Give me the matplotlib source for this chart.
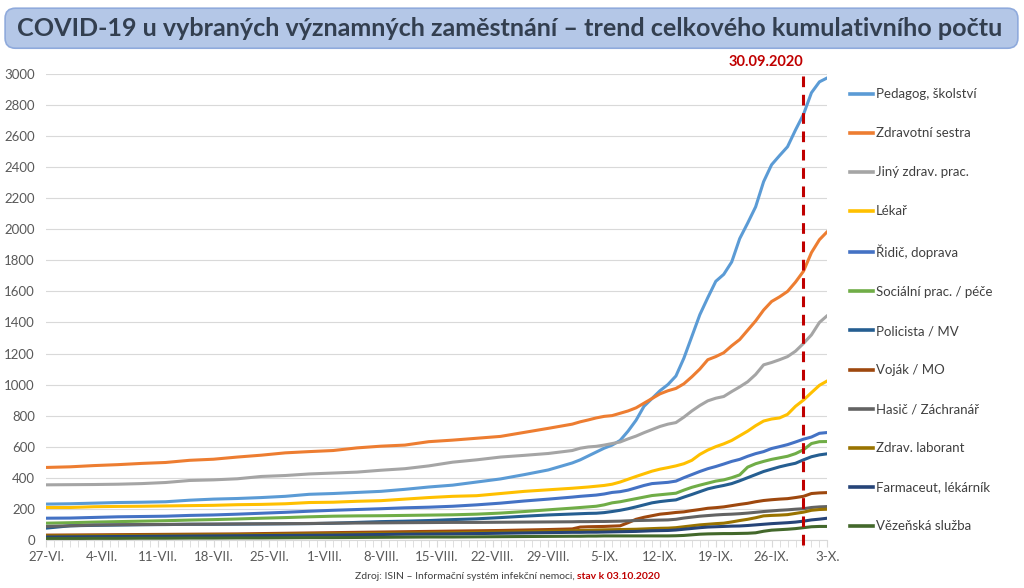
import matplotlib
matplotlib.use("Agg")
import matplotlib.pyplot as plt
import matplotlib.patches as patches
from matplotlib.lines import Line2D

plt.rcParams['font.family'] = ['Lato', 'DejaVu Sans']

# days since 27-VI (every 3rd day until 66, then daily)
days = [0, 3, 6, 9, 12, 15, 18, 21, 24, 27, 30, 33, 36, 39, 42, 45, 48, 51, 54, 57, 60, 63, 66,
        67, 68, 69, 70, 71, 72, 73, 74, 75, 76, 77, 78, 79, 80, 81, 82, 83, 84, 85, 86, 87, 88,
        89, 90, 91, 92, 93, 94, 95, 96, 97, 98]

tick_days = [0, 7, 14, 21, 28, 35, 42, 49, 56, 63, 70, 77, 84, 91, 98]
tick_labels = ['27-VI.', '4-VII.', '11-VII.', '18-VII.', '25-VII.', '1-VIII.', '8-VIII.',
               '15-VIII.', '22-VIII.', '29-VIII.', '5-IX.', '12-IX.', '19-IX.', '26-IX.', '3-X.']

pedagog = [230, 232, 236, 240, 242, 245, 255, 262, 266, 272, 280, 293, 298, 305, 312, 325, 340, 352, 372, 392, 420, 450, 495,
           515, 540, 565, 590, 610, 640, 700, 770, 860, 910, 960, 1000, 1055, 1170, 1310, 1450, 1560, 1665, 1710, 1790,
           1940, 2040, 2145, 2307, 2416, 2475, 2532, 2640, 2740, 2880, 2950, 2976]
sestra = [466, 470, 478, 484, 492, 498, 512, 519, 533, 545, 560, 568, 575, 592, 603, 610, 632, 642, 654, 666, 692, 718, 745,
          760, 772, 785, 795, 800, 815, 830, 850, 880, 910, 940, 960, 975, 1005, 1050, 1100, 1160, 1180, 1205, 1250,
          1290, 1350, 1410, 1480, 1535, 1565, 1600, 1660, 1730, 1850, 1933, 1986]
jiny = [354, 355, 356, 358, 362, 369, 382, 386, 393, 408, 414, 424, 430, 436, 448, 458, 476, 500, 515, 533, 544, 556, 575,
        590, 598, 602, 610, 620, 630, 650, 668, 690, 710, 730, 745, 755, 790, 830, 865, 895, 912, 923, 955,
        985, 1018, 1065, 1127, 1142, 1160, 1180, 1215, 1265, 1320, 1400, 1445]
lekar = [208, 208, 213, 215, 216, 218, 220, 222, 226, 228, 232, 240, 242, 248, 252, 262, 272, 280, 284, 298, 312, 322, 332,
         336, 340, 345, 350, 358, 372, 390, 408, 425, 442, 455, 465, 476, 490, 512, 550, 578, 600, 618, 640,
         670, 700, 735, 765, 778, 785, 808, 860, 900, 948, 995, 1024]
ridic = [139, 140, 144, 148, 150, 152, 157, 160, 165, 171, 177, 184, 190, 195, 200, 206, 210, 216, 225, 236, 250, 262, 275,
         280, 284, 288, 295, 305, 310, 320, 335, 350, 362, 366, 370, 378, 400, 420, 440, 458, 472, 488, 505,
         518, 538, 555, 568, 588, 600, 613, 630, 648, 662, 686, 691]
socialni = [107, 110, 114, 117, 120, 123, 127, 130, 134, 139, 143, 148, 152, 154, 155, 157, 159, 161, 165, 172, 182, 193, 204,
            208, 212, 216, 225, 238, 245, 255, 265, 275, 285, 290, 295, 300, 320, 338, 352, 365, 378, 386, 400,
            418, 468, 490, 505, 518, 528, 538, 555, 580, 620, 632, 633]
policista = [75, 90, 93, 95, 97, 98, 100, 100, 101, 102, 103, 104, 107, 112, 117, 120, 124, 130, 135, 143, 152, 160, 166,
             168, 170, 171, 175, 182, 190, 200, 212, 225, 238, 246, 252, 257, 275, 292, 310, 328, 340, 350, 362,
             380, 400, 420, 440, 455, 470, 482, 493, 515, 535, 547, 554]
vojak = [30, 31, 32, 33, 34, 35, 36, 37, 38, 40, 42, 44, 46, 48, 50, 52, 54, 56, 58, 60, 63, 66, 70,
         82, 84, 85, 86, 88, 90, 110, 132, 145, 155, 165, 170, 176, 180, 188, 195, 203, 207, 212, 220,
         228, 235, 245, 253, 258, 262, 265, 272, 280, 298, 302, 304]
hasic = [86, 90, 95, 97, 98, 99, 100, 101, 102, 103, 104, 105, 107, 108, 109, 110, 111, 112, 112, 113, 114, 115, 116,
         117, 117, 118, 118, 119, 120, 122, 124, 125, 126, 127, 128, 132, 140, 146, 152, 156, 160, 163, 165,
         168, 172, 177, 182, 186, 190, 193, 197, 200, 208, 212, 214]
laborant = [25, 26, 27, 28, 29, 30, 31, 32, 33, 34, 36, 38, 39, 40, 42, 43, 45, 46, 48, 50, 52, 55, 58,
            60, 61, 63, 64, 65, 66, 67, 68, 70, 72, 74, 75, 78, 84, 90, 96, 100, 104, 107, 115,
            124, 132, 142, 154, 157, 159, 162, 170, 178, 190, 195, 197]
farmaceut = [18, 19, 20, 21, 22, 23, 24, 25, 26, 27, 28, 29, 30, 32, 34, 36, 37, 38, 40, 42, 44, 46, 48,
             48, 49, 49, 50, 51, 52, 53, 54, 56, 58, 59, 60, 63, 68, 73, 78, 82, 84, 86, 88,
             89, 92, 96, 100, 104, 107, 110, 114, 120, 128, 133, 139]
vezenska = [8, 8, 9, 9, 10, 10, 11, 11, 12, 12, 13, 14, 14, 15, 16, 17, 18, 18, 19, 20, 21, 22, 23,
            23, 24, 24, 25, 25, 25, 25, 25, 25, 25, 25, 25, 26, 28, 32, 36, 38, 39, 40, 40,
            41, 42, 45, 55, 62, 65, 68, 72, 78, 84, 86, 86]

series = [
    ('Pedagog, školství', pedagog, '#5B9BD5'),
    ('Zdravotní sestra', sestra, '#ED7D31'),
    ('Jiný zdrav. prac.', jiny, '#A5A5A5'),
    ('Lékař', lekar, '#FFC000'),
    ('Řidič, doprava', ridic, '#4472C4'),
    ('Sociální prac. / péče', socialni, '#70AD47'),
    ('Policista / MV', policista, '#255E91'),
    ('Voják / MO', vojak, '#9E480E'),
    ('Hasič / Záchranář', hasic, '#636363'),
    ('Zdrav. laborant', laborant, '#997300'),
    ('Farmaceut, lékárník', farmaceut, '#264478'),
    ('Vězeňská služba', vezenska, '#43682B'),
]

cutoff_day = 95  # 30.09.2020

fig = plt.figure(figsize=(10.24, 5.88), dpi=100)
ax = fig.add_axes([0.045, 0.082, 0.763, 0.792])

for name, vals, col in series:
    ax.plot(days, vals, color=col, lw=2.2, label=name, solid_capstyle='round')

ax.set_xlim(0, 98)
ax.set_ylim(0, 3000)
ax.set_yticks(range(0, 3001, 200))
ax.set_xticks(tick_days)
ax.set_xticklabels(tick_labels)
ax.set_xticks(range(0, 99), minor=True)
ax.tick_params(axis='y', length=0, labelsize=9.5, labelcolor='#595959', pad=8)
ax.tick_params(axis='x', which='both', length=5, color='#d9d9d9', labelsize=9.5,
               labelcolor='#595959', pad=3)
ax.grid(axis='y', color='#d9d9d9', lw=0.8)
ax.set_axisbelow(True)
for s in ['top', 'right', 'left']:
    ax.spines[s].set_visible(False)
ax.spines['bottom'].set_color('#d9d9d9')

# date of the cut-off
ax.axvline(cutoff_day, ymin=-0.012, ymax=1.01, color='#C00000', lw=2.2, ls=(0, (3.5, 2.5)),
           clip_on=False, zorder=20)
ax.text(cutoff_day, 3030, '30.09.2020', color='#C00000', fontsize=10.5, fontweight='bold',
        ha='right', va='bottom')

# legend on the right
handles = [Line2D([], [], color=c, lw=2.6) for _, _, c in series]
fig.legend(handles, [n for n, _, _ in series], loc='upper left', bbox_to_anchor=(0.818, 0.87),
           frameon=False, fontsize=9.5, labelspacing=2.05, handlelength=1.75, handletextpad=0.25,
           labelcolor='#404040')

# title box
box = patches.FancyBboxPatch((0.005, 0.918), 0.989, 0.068, boxstyle='round,pad=0,rounding_size=0.01',
                             transform=fig.transFigure, facecolor='#B4C7E7', edgecolor='#8FAADC',
                             lw=1.2, mutation_aspect=1.7)
fig.patches.append(box)
fig.text(0.017, 0.952, 'COVID-19 u vybraných významných zaměstnání – trend celkového kumulativního počtu',
         fontsize=18.1, fontweight='bold', color='#333F50', va='center', ha='left')

# source line
fig.text(0.5635, 0.012, 'Zdroj: ISIN – Informační systém infekční nemoci, ', fontsize=7.5,
         color='#404040', ha='right', va='bottom')
fig.text(0.5635, 0.012, 'stav k 03.10.2020', fontsize=7.5, color='#C00000', fontweight='bold',
         ha='left', va='bottom')

fig.savefig('out.png', dpi=100)
